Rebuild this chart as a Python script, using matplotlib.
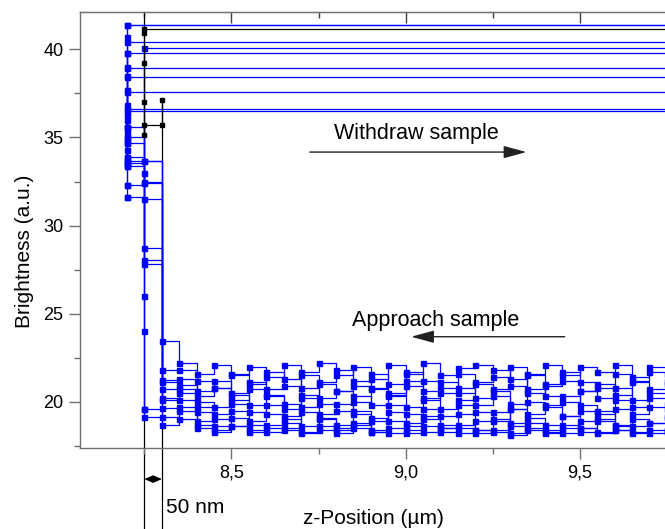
import numpy as np
import matplotlib.pyplot as plt
from matplotlib.ticker import MultipleLocator, FuncFormatter

plt.rcParams["font.family"] = ["Liberation Sans", "DejaVu Sans"]

# z columns of the far-field part of the approach (um), 50 nm steps
z_far = [8.35, 8.40, 8.45, 8.50, 8.55, 8.60, 8.65, 8.70, 8.75, 8.80,
         8.85, 8.90, 8.95, 9.00, 9.05, 9.10, 9.15, 9.20, 9.25, 9.30,
         9.35, 9.40, 9.45, 9.50, 9.55, 9.60, 9.65, 9.70, 9.75, 9.80]

# brightness of each approach run in the far field (a.u.)
far_1 = [22.2, 21.6, 22.1, 21.5, 22.0, 21.4, 22.1, 21.7, 22.2, 21.5,
         22.0, 21.3, 22.1, 21.6, 22.2, 21.5, 21.9, 22.1, 21.4, 22.0,
         21.6, 22.1, 21.5, 22.0, 21.7, 22.1, 21.4, 22.0, 21.6, 21.9]
far_2 = [21.8, 21.2, 20.8, 21.6, 21.0, 21.7, 20.9, 21.5, 21.1, 21.8,
         20.9, 21.6, 21.0, 21.7, 21.2, 20.8, 21.6, 21.1, 21.8, 20.9,
         21.5, 21.0, 21.7, 21.1, 20.8, 21.6, 21.2, 21.7, 21.0, 21.5]
far_3 = [21.3, 20.6, 21.2, 20.5, 21.1, 20.7, 21.3, 20.4, 21.0, 20.6,
         21.2, 20.8, 20.5, 21.2, 20.6, 21.1, 20.5, 21.0, 20.7, 21.3,
         20.5, 20.9, 21.2, 20.6, 21.0, 20.4, 21.1, 20.7, 21.2, 20.6]
far_4 = [20.95, 20.3, 20.8, 20.1, 20.7, 20.4, 19.9, 20.8, 20.2, 20.6,
         20.0, 20.7, 20.3, 20.9, 20.1, 20.5, 20.8, 20.2, 20.6, 19.9,
         20.7, 20.3, 20.0, 20.6, 20.2, 20.8, 20.1, 20.5, 19.9, 20.4]
far_5 = [20.7, 20.0, 19.7, 20.4, 19.8, 20.3, 19.6, 20.2, 19.9, 19.5,
         20.3, 19.8, 20.4, 19.7, 20.2, 19.6, 20.1, 19.8, 20.3, 19.6,
         20.0, 19.7, 20.3, 19.8, 19.5, 20.1, 19.7, 20.2, 19.6, 19.9]
far_6 = [20.5, 19.7, 19.3, 19.9, 19.4, 19.8, 19.2, 19.7, 19.3, 19.9,
         19.5, 19.1, 19.8, 19.3, 19.6, 19.2, 19.8, 19.4, 19.0, 19.6,
         19.3, 19.8, 19.2, 19.5, 19.0, 19.6, 19.3, 19.7, 19.1, 19.4]
far_7 = [20.1, 19.4, 19.0, 19.5, 18.9, 19.3, 18.8, 19.4, 19.0, 18.7,
         19.3, 18.9, 19.4, 18.8, 19.2, 18.7, 19.3, 18.9, 19.4, 18.8,
         19.1, 18.7, 19.2, 18.9, 19.3, 18.7, 19.0, 18.8, 19.2, 18.9]
far_8 = [19.7, 18.9, 18.6, 19.1, 18.7, 18.5, 19.0, 18.6, 19.1, 18.5,
         18.8, 18.4, 18.9, 18.6, 19.0, 18.5, 18.7, 18.4, 18.9, 18.6,
         18.8, 18.4, 18.7, 18.5, 18.9, 18.4, 18.6, 18.8, 18.4, 18.6]
far_9 = [19.5, 18.7, 18.4, 18.6, 18.3, 18.7, 18.4, 18.2, 18.6, 18.4,
         18.7, 18.3, 18.5, 18.2, 18.6, 18.3, 18.5, 18.2, 18.4, 18.1,
         18.5, 18.3, 18.2, 18.5, 18.3, 18.6, 18.2, 18.4, 18.3, 18.2]
far_10 = [19.0, 18.5, 18.3, 18.6, 18.4, 18.3, 18.5, 18.3, 18.4, 18.2,
          18.5, 18.3, 18.2, 18.4, 18.3, 18.5, 18.2, 18.4, 18.3, 18.2,
          18.4, 18.2, 18.5, 18.3, 18.2, 18.4, 18.3, 18.2, 18.4, 18.3]

# brightness at the contact columns z = 8.20, 8.25, 8.30 (None: not reached)
b_820 = [33.9, 35.04, 34.67, 33.53, 33.4, 32.3, 31.6, None, 33.68, 35.6]
b_825 = [28.72, 33.68, 32.5, 28.04, 32.4, 27.81, 31.5, 19.59, 19.13, 33.68]
b_830 = [23.46, 21.8, 21.23, 21.12, 20.72, 20.2, 20.1, 19.64, 19.13, 18.68]

# withdraw: readings while still at contact, then level kept on the way out
withdraw_mid = [[37.7], [39.0, 40.7], [36.84], [36.3], [35.6], [34.8],
                [34.3, 36.0], [24.0, 26.0, 33.0], [35.3], [38.5, 39.79]]
withdraw_level = [40.40, 41.38, 39.77, 38.92, 38.41, 37.56, 36.60, 40.09,
                  36.50, 41.38]

# the black run
black_z = [8.30, 8.30, 8.25, 8.25, 8.25, 8.25, 8.25, 8.25, 10.5]
black_b = [37.1, 35.7, 35.7, 35.15, 37.0, 39.2, 40.9, 41.15, 41.15]

far_runs = [far_1, far_2, far_3, far_4, far_5, far_6, far_7, far_8, far_9, far_10]

fig = plt.figure(figsize=(6.65, 5.29), dpi=100)
ax = fig.add_axes([80 / 665, 81 / 529, 585 / 665, 436 / 529])
ax.set_xlim(8.065, 9.745)
ax.set_ylim(17.375, 42.12)

# 50 nm marker lines (run past the bottom of the axes)
ax.plot([8.25, 8.25], [42.12, 12.8], color="black", lw=0.9, clip_on=False, zorder=1)
ax.plot([8.30, 8.30], [37.1, 12.8], color="black", lw=0.9, clip_on=False, zorder=1)

for i, far in enumerate(far_runs):
    z = []
    b = []
    if b_820[i] is not None:
        z.append(8.20)
        b.append(b_820[i])
    z += [8.25, 8.30] + z_far
    b += [b_825[i], b_830[i]] + far
    ax.plot(z, b, color="blue", lw=0.9, marker="s", ms=3.6, drawstyle="steps-post", zorder=3)
    z0 = z[0]
    wz = [z0] * (len(withdraw_mid[i]) + 2) + [10.5]
    wb = [b[0]] + withdraw_mid[i] + [withdraw_level[i], withdraw_level[i]]
    ax.plot(wz, wb, color="blue", lw=0.9, marker="s", ms=3.6, zorder=3)

ax.plot(black_z, black_b, color="black", lw=0.9, marker="s", ms=3.3, zorder=4)

# arrows and labels
ax.annotate("", xy=(9.347, 34.17), xytext=(8.725, 34.17),
            arrowprops=dict(arrowstyle="-|>,head_length=1.4,head_width=0.38",
                            color="#222222", lw=1.0, shrinkA=0, shrinkB=0))
ax.text(9.03, 35.2, "Withdraw sample", fontsize=15.5, ha="center", va="center")
ax.annotate("", xy=(9.016, 23.69), xytext=(9.457, 23.69),
            arrowprops=dict(arrowstyle="-|>,head_length=1.4,head_width=0.38",
                            color="#222222", lw=1.0, shrinkA=0, shrinkB=0))
ax.text(9.085, 24.6, "Approach sample", fontsize=15.5, ha="center", va="center")

ax.annotate("", xy=(8.25, 15.61), xytext=(8.30, 15.61), annotation_clip=False,
            arrowprops=dict(arrowstyle="<|-|>,head_length=0.5,head_width=0.22",
                            color="black", lw=0.9, shrinkA=0, shrinkB=0))
ax.text(8.313, 13.97, "50 nm", fontsize=15, ha="left", va="center")

# axes styling
spine_c = "#707070"
ax.spines["right"].set_visible(False)
for s in ["left", "bottom", "top"]:
    ax.spines[s].set_color(spine_c)
    ax.spines[s].set_linewidth(1.0)

ax.xaxis.set_major_locator(MultipleLocator(0.5))
ax.xaxis.set_minor_locator(MultipleLocator(0.25))
ax.yaxis.set_major_locator(MultipleLocator(5))
ax.yaxis.set_minor_locator(MultipleLocator(2.5))
ax.xaxis.set_major_formatter(FuncFormatter(lambda v, p: f"{v:.1f}".replace(".", ",")))
ax.yaxis.set_major_formatter(FuncFormatter(lambda v, p: f"{v:.0f}"))
ax.tick_params(which="both", direction="out", color=spine_c, labelsize=13, top=False, right=False)
ax.tick_params(which="major", length=8, width=1.0, pad=4)
ax.tick_params(which="minor", length=4, width=1.0)

top = ax.secondary_xaxis("top")
top.xaxis.set_major_locator(MultipleLocator(0.5))
top.xaxis.set_minor_locator(MultipleLocator(0.25))
top.tick_params(which="both", direction="in", color="#404040", labeltop=False)
top.tick_params(which="major", length=8, width=1.0)
top.tick_params(which="minor", length=4, width=1.0)
top.spines["top"].set_color(spine_c)

fig.text(24.7 / 665, 1 - 251.5 / 529, "Brightness (a.u.)", fontsize=15, rotation=90,
         ha="center", va="center")
fig.text(373 / 665, 1 - 518 / 529, "z-Position (\u00b5m)", fontsize=15, ha="center", va="center")

fig.savefig("out.png", dpi=100)
